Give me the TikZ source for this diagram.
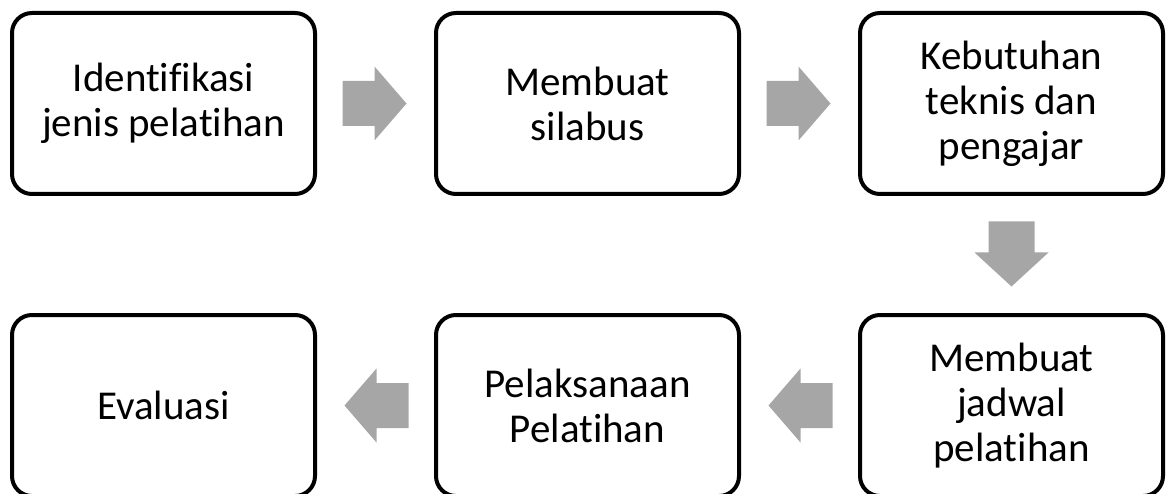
\documentclass[tikz,border=0pt]{standalone}
\usepackage{fontspec}
\setmainfont{Carlito}[Ligatures={NoCommon}]
\usetikzlibrary{calc}
\definecolor{arrowgray}{RGB}{166,166,166}
\begin{document}
\begin{tikzpicture}[x=1pt,y=-1pt,
  stepbox/.style={draw=black, line width=4pt, rounded corners=20pt,
    minimum width=303pt, minimum height=181pt, align=center, inner sep=0pt,
    font=\fontsize{41}{45}\selectfont},
  blockarrow/.style={fill=arrowgray, draw=none}]
\useasboundingbox (0,0) rectangle (1172,494);
\node[stepbox] (b1) at (163.5,103.5) {Identifikasi\\jenis pelatihan};
\node[stepbox] (b2) at (587.5,103.5) {Membuat\\silabus};
\node[stepbox] (b3) at (1011.5,103.5) {Kebutuhan\\teknis dan\\pengajar};
\node[stepbox] (b4) at (1011.5,405.5) {Membuat\\jadwal\\pelatihan};
\node[stepbox] (b5) at (587.5,405.5) {Pelaksanaan\\Pelatihan};
\node[stepbox] (b6) at (163.5,405.5) {Evaluasi};
% arrow midpoints
\coordinate (m12) at ($(b1.east)!0.5!(b2.west)$);
\coordinate (m23) at ($(b2.east)!0.5!(b3.west)$);
\coordinate (m34) at ($(b3.south)!0.5!(b4.north)$);
\coordinate (m45) at ($(b4.west)!0.5!(b5.east)$);
\coordinate (m56) at ($(b5.west)!0.5!(b6.east)$);
% right arrows
\foreach \m in {m12,m23}{
  \fill[blockarrow] ($(\m)+(-33,-22.5)$) -- ++(32,0) -- ++(0,-14.5) -- ++(32,37)
    -- ++(-32,37) -- ++(0,-14.5) -- ++(-32,0) -- cycle;
}
% down arrow
\fill[blockarrow] ($(m34)+(-23,-33)$) -- ++(46,0) -- ++(0,31) -- ++(14,0)
  -- ++(-37,34) -- ++(-37,-34) -- ++(14,0) -- cycle;
% left arrows
\foreach \m in {m45,m56}{
  \fill[blockarrow] ($(\m)+(33,-22.5)$) -- ++(-32,0) -- ++(0,-14.5) -- ++(-32,37)
    -- ++(32,37) -- ++(0,-14.5) -- ++(32,0) -- cycle;
}
\end{tikzpicture}
\end{document}
